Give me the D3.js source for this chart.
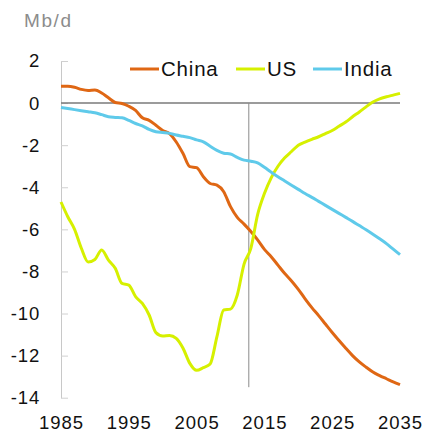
<!DOCTYPE html>
<html>
<head>
<meta charset="utf-8">
<script src="https://cdn.jsdelivr.net/npm/d3@7"></script>
<style>
  body { margin: 0; background: #fff; }
  text { font-family: "Liberation Sans", Arial, sans-serif; }
</style>
</head>
<body>
<div id="vis"></div>
<script>
// frame size and margins
const FRAME_WIDTH = 424;
const FRAME_HEIGHT = 433;
const MARGINS = {left: 61, right: 24, top: 61, bottom: 35};

// data (Mb/d)
const years = d3.range(1985, 2036);
const china = [0.8, 0.8, 0.75, 0.65, 0.6, 0.62, 0.48, 0.25, 0.03, -0.02,
  -0.15, -0.35, -0.7, -0.82, -1.05, -1.3, -1.45, -1.85, -2.4, -3.02,
  -3.07, -3.5, -3.82, -3.9, -4.21, -4.92, -5.43, -5.75, -6.1, -6.5,
  -6.95, -7.3, -7.7, -8.1, -8.45, -8.85, -9.3, -9.72, -10.1, -10.5,
  -10.9, -11.28, -11.65, -12.0, -12.3, -12.55, -12.78, -12.95, -13.1, -13.25, -13.38];
const us = [-4.7, -5.4, -6.0, -6.9, -7.55, -7.43, -6.98, -7.46, -7.85, -8.57,
  -8.65, -9.2, -9.52, -10.07, -10.91, -11.07, -11.04, -11.18, -11.65, -12.37,
  -12.7, -12.57, -12.4, -11.1, -9.83, -9.79, -9.12, -7.65, -6.9, -5.3,
  -4.3, -3.55, -3.0, -2.6, -2.3, -2.0, -1.85, -1.72, -1.6, -1.45,
  -1.3, -1.1, -0.9, -0.65, -0.42, -0.18, 0.05, 0.2, 0.3, 0.38, 0.46];
const india = [-0.21, -0.26, -0.31, -0.36, -0.41, -0.46, -0.55, -0.65, -0.68, -0.7,
  -0.82, -0.97, -1.08, -1.25, -1.36, -1.4, -1.44, -1.52, -1.58, -1.64,
  -1.75, -1.84, -2.05, -2.25, -2.38, -2.42, -2.58, -2.71, -2.76, -2.84,
  -3.05, -3.28, -3.5, -3.7, -3.9, -4.1, -4.3, -4.48, -4.67, -4.86,
  -5.05, -5.24, -5.43, -5.62, -5.82, -6.02, -6.23, -6.45, -6.68, -6.94, -7.2];

const seriesNames = ["China", "US", "India"];
const seriesColors = ["#df6714", "#d6f000", "#5fcaea"];
const yTicks = [2, 0, -2, -4, -6, -8, -10, -12, -14];
const xTicks = [1985, 1995, 2005, 2015, 2025, 2035];
const dividerYear = 2012.7;

const series = [china, us, india].map((vals, i) => ({
  name: seriesNames[i],
  color: seriesColors[i],
  points: vals.map((v, j) => ({year: years[j], value: v}))
}));

const svg = d3.select("#vis")
  .append("svg")
    .attr("width", FRAME_WIDTH)
    .attr("height", FRAME_HEIGHT);

// scales
const X_SCALE = d3.scaleLinear()
  .domain([1985, 2035])
  .range([MARGINS.left, FRAME_WIDTH - MARGINS.right]);
const Y_SCALE = d3.scaleLinear()
  .domain([-14, 2])
  .range([397.7, MARGINS.top]);

// unit label
svg.append("text")
  .attr("x", 24)
  .attr("y", 27)
  .attr("font-size", "19px")
  .attr("letter-spacing", "1.6px")
  .attr("fill", "#8c8c8c")
  .text("Mb/d");

// y axis, ticks pointing inward
const yAxis = svg.append("g")
  .attr("transform", "translate(" + MARGINS.left + ",0)")
  .call(d3.axisLeft(Y_SCALE).tickValues(yTicks).tickSizeInner(-7).tickSizeOuter(0).tickPadding(21)
    .tickFormat(d3.format("d")));
yAxis.select(".domain").attr("stroke", "#c8c8c8");
yAxis.selectAll(".tick line").attr("stroke", "#d0d0d0");
yAxis.selectAll(".tick text")
  .attr("font-size", "18.5px")
  .attr("letter-spacing", "0.8px")
  .attr("fill", "#111")
  .text(d => d < 0 ? "-" + Math.abs(d) : d);

// x axis labels only
const xAxis = svg.append("g")
  .attr("transform", "translate(0,429)")
  .call(d3.axisBottom(X_SCALE).tickValues(xTicks).tickSize(0).tickFormat(d3.format("d")));
xAxis.select(".domain").remove();
xAxis.selectAll(".tick text")
  .attr("y", 0)
  .attr("dy", null)
  .attr("font-size", "18.5px")
  .attr("letter-spacing", "1px")
  .attr("fill", "#111");

// zero line
svg.append("line")
  .attr("x1", X_SCALE(1985)).attr("x2", X_SCALE(2035))
  .attr("y1", Y_SCALE(0)).attr("y2", Y_SCALE(0))
  .attr("stroke", "#7a7a7a")
  .attr("stroke-width", 1.5);

// history / projection divider
svg.append("line")
  .attr("x1", X_SCALE(dividerYear)).attr("x2", X_SCALE(dividerYear))
  .attr("y1", Y_SCALE(0)).attr("y2", Y_SCALE(-13.5))
  .attr("stroke", "#8a8a8a")
  .attr("stroke-width", 1);

// lines
const line = d3.line()
  .curve(d3.curveMonotoneX)
  .x(d => X_SCALE(d.year))
  .y(d => Y_SCALE(d.value));

svg.selectAll(".series")
  .data(series)
  .enter()
  .append("path")
    .attr("class", "series")
    .attr("d", d => line(d.points))
    .attr("fill", "none")
    .attr("stroke", d => d.color)
    .attr("stroke-width", 3)
    .attr("stroke-linejoin", "round");

// legend
const legendX = [130, 236, 313];
const legend = svg.selectAll(".legend")
  .data(series)
  .enter()
  .append("g")
    .attr("class", "legend")
    .attr("transform", (d, i) => "translate(" + legendX[i] + ",69)");
legend.append("line")
  .attr("x1", 0).attr("x2", 29)
  .attr("stroke", d => d.color)
  .attr("stroke-width", 3);
legend.append("text")
  .attr("x", 31)
  .attr("y", 7)
  .attr("font-size", "20.5px")
  .attr("letter-spacing", "0.8px")
  .attr("fill", "#111")
  .text(d => d.name);
</script>
</body>
</html>
